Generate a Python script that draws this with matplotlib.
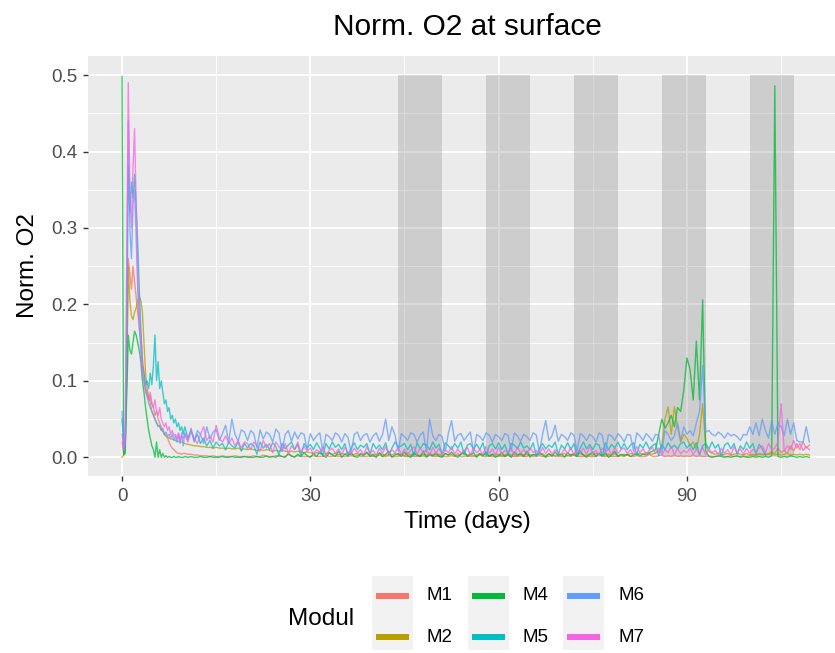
import numpy as np
import matplotlib.pyplot as plt
from matplotlib.lines import Line2D
from matplotlib.patches import Rectangle

plt.rcParams['font.family'] = ['Liberation Sans', 'DejaVu Sans']

# Norm. O2 in thousandths. early: every 6 h from day 0, late: every 12 h from day 10
m1_early = [20, 5, 8, 100, 260, 240, 220, 250, 230, 210, 190, 170, 160, 130, 110, 90, 85, 75, 80, 70,
            65, 55, 60, 50, 45, 40, 35, 30, 28, 25, 20, 15, 12, 10, 8, 6, 5, 5, 4, 5]
m1_late = [5, 4, 4, 3, 3, 2, 2, 2, 1, 2, 1, 1, 2, 1, 1, 1, 2, 1, 1, 1,
           1, 1, 2, 1, 1, 3, 1, 1, 1, 2, 1, 1, 1, 4, 1, 1, 2, 1, 1, 1,
           1, 2, 1, 1, 1, 3, 1, 1, 2, 1, 1, 1, 1, 2, 1, 3, 1, 1, 1, 2,
           1, 1, 3, 1, 1, 2, 1, 1, 1, 4, 1, 1, 2, 1, 1, 1, 2, 1, 3, 1,
           1, 2, 1, 1, 1, 2, 1, 5, 1, 1, 2, 1, 1, 1, 3, 1, 1, 2, 1, 1,
           2, 1, 1, 3, 1, 1, 1, 2, 1, 1, 4, 1, 1, 2, 1, 1, 1, 3, 1, 1,
           1, 1, 2, 1, 3, 1, 1, 1, 2, 1, 1, 1, 5, 1, 1, 2, 1, 1, 1, 2,
           1, 3, 1, 1, 2, 1, 1, 1, 4, 1, 1, 2, 3, 1, 2, 1, 3, 1, 2, 1,
           2, 1, 3, 1, 2, 1, 1, 2, 1, 1, 1, 3, 1, 1, 2, 1, 1, 1, 2, 1,
           2, 3, 2, 4, 3, 5, 4, 8, 5, 12, 6, 9, 5, 15, 8, 18, 10, 20, 12, 16]

m2_early = [0, 3, 8, 120, 250, 205, 185, 180, 190, 195, 205, 210, 205, 190, 150, 110, 90, 80, 70, 60,
            55, 50, 45, 42, 40, 36, 34, 30, 28, 27, 25, 24, 24, 23, 22, 21, 21, 20, 20, 19]
m2_late = [18, 17, 16, 15, 15, 14, 14, 13, 13, 12, 13, 12, 12, 11, 12, 11, 11, 12, 10, 11,
           10, 11, 10, 9, 10, 9, 10, 9, 8, 9, 8, 9, 8, 7, 8, 7, 8, 7, 6, 7,
           6, 5, 6, 5, 4, 5, 6, 4, 5, 3, 5, 4, 6, 3, 4, 5, 3, 4, 5, 3,
           4, 3, 5, 4, 2, 4, 3, 5, 3, 4, 2, 5, 3, 4, 3, 2, 4, 3, 5, 3,
           3, 4, 2, 5, 3, 4, 3, 2, 4, 5, 3, 4, 2, 3, 5, 3, 4, 2, 4, 3,
           4, 2, 3, 5, 3, 4, 2, 4, 3, 5, 2, 3, 4, 3, 5, 2, 4, 3, 2, 4,
           3, 5, 2, 4, 3, 4, 5, 3, 2, 4, 3, 5, 4, 2, 3, 4, 3, 5, 2, 3,
           4, 3, 5, 4, 3, 5, 4, 6, 5, 4, 6, 8, 15, 50, 66, 30, 66, 40, 20, 30,
           25, 15, 20, 10, 30, 70, 15, 8, 5, 4, 5, 3, 4, 5, 3, 4, 5, 4, 3, 5,
           3, 4, 3, 5, 4, 3, 4, 5, 3, 4, 3, 4, 5, 3, 4, 3, 4, 3, 4, 3]

m4_early = [498, 3, 5, 80, 160, 140, 135, 150, 165, 160, 150, 140, 125, 100, 85, 65, 50, 35, 25, 15,
            10, 0, 20, 0, 10, 0, 5, 0, 2, 0, 1, 0, 0, 1, 0, 0, 1, 0, 0, 0]
m4_late = [1, 0, 1, 0, 0, 1, 0, 0, 1, 0, 0, 0, 1, 0, 0, 1, 0, 0, 0, 1,
           0, 0, 0, 1, 0, 0, 2, 0, 1, 0, 3, 1, 0, 5, 2, 0, 4, 1, 6, 2,
           0, 5, 1, 7, 2, 0, 6, 3, 1, 8, 0, 4, 2, 6, 1, 0, 5, 2, 7, 1,
           3, 0, 6, 1, 4, 8, 0, 3, 5, 1, 7, 2, 0, 6, 3, 1, 8, 0, 4, 2,
           6, 1, 0, 5, 3, 7, 2, 0, 4, 8, 1, 3, 6, 0, 5, 2, 7, 1, 4, 0,
           2, 6, 1, 4, 0, 7, 3, 5, 1, 8, 0, 4, 2, 6, 3, 0, 5, 1, 7, 2,
           4, 0, 6, 2, 5, 1, 8, 3, 0, 4, 7, 1, 5, 2, 6, 0, 3, 8, 1, 4,
           2, 4, 1, 3, 5, 2, 4, 3, 6, 8, 10, 30, 50, 38, 45, 55, 40, 65, 60, 88,
           130, 115, 75, 152, 75, 206, 8, 1, 0, 1, 2, 1, 0, 1, 0, 1, 2, 0, 1, 0,
           0, 1, 0, 1, 0, 1, 0, 2, 486, 1, 0, 1, 0, 2, 1, 0, 1, 0, 1, 0]

m5_early = [50, 20, 10, 150, 380, 320, 360, 340, 370, 330, 280, 220, 170, 120, 110, 95, 100, 90, 110, 95,
            120, 160, 100, 125, 90, 100, 85, 70, 75, 60, 65, 50, 55, 45, 50, 40, 45, 35, 40, 30]
m5_late = [40, 25, 35, 22, 30, 18, 25, 15, 22, 12, 20, 15, 18, 10, 20, 15, 12, 20, 8, 18,
           12, 18, 15, 4, 20, 12, 17, 10, 19, 14, 3, 18, 11, 16, 20, 10, 17, 2, 18, 12,
           17, 10, 19, 12, 3, 18, 11, 20, 13, 17, 10, 18, 2, 12, 19, 10, 16, 13, 18, 4,
           18, 11, 16, 10, 19, 3, 12, 20, 13, 15, 18, 10, 17, 2, 19, 11, 18, 16, 10, 20,
           12, 17, 4, 19, 15, 10, 18, 12, 20, 3, 16, 18, 11, 17, 10, 19, 2, 15, 18, 11,
           19, 10, 17, 3, 18, 16, 11, 20, 12, 15, 10, 19, 2, 12, 18, 11, 16, 13, 20, 4,
           16, 11, 19, 10, 18, 3, 12, 20, 11, 17, 10, 18, 16, 2, 19, 10, 17, 12, 20, 11,
           18, 10, 16, 19, 3, 17, 12, 20, 11, 15, 18, 2, 17, 10, 19, 12, 16, 11, 18, 20,
           12, 17, 10, 19, 3, 15, 18, 11, 20, 12, 17, 2, 16, 19, 11, 18, 4, 15, 10, 20,
           12, 18, 4, 17, 11, 3]

m6_early = [60, 10, 30, 200, 440, 300, 260, 330, 350, 290, 220, 170, 140, 110, 100, 85, 80, 70, 65, 60,
            55, 50, 45, 40, 42, 35, 38, 30, 33, 28, 30, 25, 30, 22, 28, 20, 30, 18, 32, 15]
m6_late = [32, 22, 38, 20, 35, 30, 18, 40, 24, 33, 36, 22, 31, 42, 20, 50, 30, 21, 36, 33,
           22, 35, 31, 12, 36, 24, 33, 30, 20, 37, 32, 8, 30, 35, 21, 33, 24, 32, 30, 10,
           31, 22, 28, 32, 8, 30, 27, 22, 32, 29, 20, 31, 26, 6, 30, 33, 22, 29, 31, 20,
           28, 32, 21, 30, 50, 22, 40, 29, 8, 31, 27, 22, 32, 30, 20, 29, 33, 7, 50, 28,
           22, 30, 27, 8, 32, 48, 21, 29, 31, 22, 28, 33, 6, 30, 27, 22, 32, 29, 20, 30,
           27, 22, 31, 29, 8, 32, 28, 21, 30, 27, 22, 32, 29, 6, 30, 48, 22, 28, 42, 21,
           30, 27, 22, 32, 29, 8, 31, 28, 22, 30, 27, 20, 32, 29, 7, 30, 28, 22, 31, 27,
           20, 30, 29, 8, 32, 28, 22, 31, 27, 21, 30, 29, 6, 35, 30, 22, 28, 45, 22, 40,
           30, 35, 28, 45, 60, 120, 33, 35, 30, 28, 33, 30, 25, 32, 28, 30, 27, 22, 30, 29,
           40, 30, 45, 28, 50, 35, 25, 48, 30, 45, 40, 28, 50, 30, 45, 22, 20, 20, 40, 20]

m7_early = [30, 10, 20, 250, 490, 350, 300, 380, 430, 330, 250, 190, 150, 120, 100, 90, 80, 75, 85, 70,
            65, 75, 60, 55, 65, 50, 45, 40, 45, 35, 40, 30, 35, 28, 30, 25, 32, 22, 28, 25]
m7_late = [30, 20, 35, 25, 18, 30, 40, 22, 28, 20, 42, 25, 20, 28, 18, 25, 15, 22, 12, 20,
           18, 10, 20, 15, 8, 22, 12, 18, 6, 20, 14, 8, 18, 5, 15, 10, 20, 6, 14, 8,
           12, 4, 10, 6, 14, 3, 9, 12, 5, 11, 3, 13, 7, 4, 12, 6, 10, 3, 14, 5,
           9, 3, 12, 5, 14, 4, 10, 6, 13, 3, 11, 5, 9, 14, 4, 12, 6, 10, 3, 13,
           5, 12, 3, 10, 6, 14, 4, 11, 5, 9, 13, 3, 12, 6, 10, 4, 14, 5, 11, 3,
           13, 4, 9, 6, 12, 3, 14, 5, 10, 4, 12, 6, 9, 3, 13, 5, 11, 4, 10, 6,
           4, 11, 5, 13, 3, 10, 6, 12, 4, 14, 5, 9, 3, 12, 6, 11, 4, 13, 5, 10,
           12, 5, 10, 3, 14, 6, 11, 4, 9, 13, 5, 12, 3, 10, 6, 14, 4, 11, 5, 9,
           6, 12, 4, 10, 5, 13, 3, 11, 6, 9, 4, 12, 5, 10, 3, 14, 6, 11, 4, 12,
           5, 10, 8, 12, 15, 6, 18, 10, 12, 20, 70, 8, 15, 10, 22, 12, 18, 9, 14, 10]

moduls = ['M1', 'M2', 'M4', 'M5', 'M6', 'M7']
series = [(m1_early, m1_late), (m2_early, m2_late), (m4_early, m4_late),
          (m5_early, m5_late), (m6_early, m6_late), (m7_early, m7_late)]
colors = ['#F8766D', '#B79F00', '#00BA38', '#00BFC4', '#619CFF', '#F564E3']

# dark periods (days)
night_start = [44, 58, 72, 86, 100]
night_end = [51, 65, 79, 93, 107]

W, H = 835, 653
fig = plt.figure(figsize=(W / 100, H / 100), dpi=100)
# panel runs a bit past the right edge, like the cropped original
ax = fig.add_axes([87.5 / W, 1 - 476.4 / H, (847 - 87.5) / W, (476.4 - 56) / H])
ax.set_facecolor('#EBEBEB')
for s in ax.spines.values():
    s.set_visible(False)

ax.set_xlim(-5.5, 115.5)
ax.set_ylim(-0.025, 0.525)
ax.set_xticks([0, 30, 60, 90])
ax.set_xticks([15, 45, 75, 105], minor=True)
ax.set_yticks([0, 0.1, 0.2, 0.3, 0.4, 0.5])
ax.set_yticks([0.05, 0.15, 0.25, 0.35, 0.45], minor=True)
ax.set_yticklabels(['0.0', '0.1', '0.2', '0.3', '0.4', '0.5'])
ax.grid(which='major', color='white', lw=1.3, zorder=0)
ax.grid(which='minor', color='white', lw=0.6, zorder=0)
ax.set_axisbelow(True)
ax.tick_params(which='major', length=3.6, width=1.0, color='#333333',
               labelsize=13.5, labelcolor='#4D4D4D', pad=3.5)
ax.tick_params(axis='x', pad=5)
ax.tick_params(which='minor', length=0)

for a, b in zip(night_start, night_end):
    ax.axvspan(a, b, ymin=(0 + 0.025) / 0.55, ymax=(0.5 + 0.025) / 0.55,
               color='#808080', alpha=0.28, lw=0, zorder=1)

for name, (early, late), c in zip(moduls, series, colors):
    t = np.concatenate([np.arange(len(early)) * 0.25, 10 + np.arange(len(late)) * 0.5])
    v = np.array(early + late) / 1000.0
    ax.plot(t, v, color=c, lw=1.0, alpha=0.75, zorder=2)

fig.text(467 / W, 1 - 27 / H, 'Norm. O2 at surface', ha='center', va='center', fontsize=21.5)
fig.text(467 / W, 1 - 522 / H, 'Time (days)', ha='center', va='center', fontsize=17.5)
fig.text(28 / W, 1 - 266 / H, 'Norm. O2', ha='center', va='center', rotation=90, fontsize=17.5)

# legend, drawn by hand in ggplot style
fig.text(288 / W, 1 - 619 / H, 'Modul', ha='left', va='center', fontsize=17.5)
key_x = [372, 468, 563]
row_y = [596, 637]
for i, (name, c) in enumerate(zip(moduls, colors)):
    col, row = i // 2, i % 2
    x0 = key_x[col]
    if row == 0:
        fig.patches.append(Rectangle((x0 / W, 1 - 650 / H), 41 / W, 74 / H,
                                     transform=fig.transFigure, color='#F2F2F2', lw=0))
    y = 1 - row_y[row] / H
    fig.lines.append(Line2D([(x0 + 4) / W, (x0 + 37) / W], [y, y], transform=fig.transFigure,
                            color=c, lw=4.3, solid_capstyle='butt'))
    fig.text((x0 + 55) / W, y, name, ha='left', va='center', fontsize=13.5)

fig.savefig('out.png', dpi=100)
